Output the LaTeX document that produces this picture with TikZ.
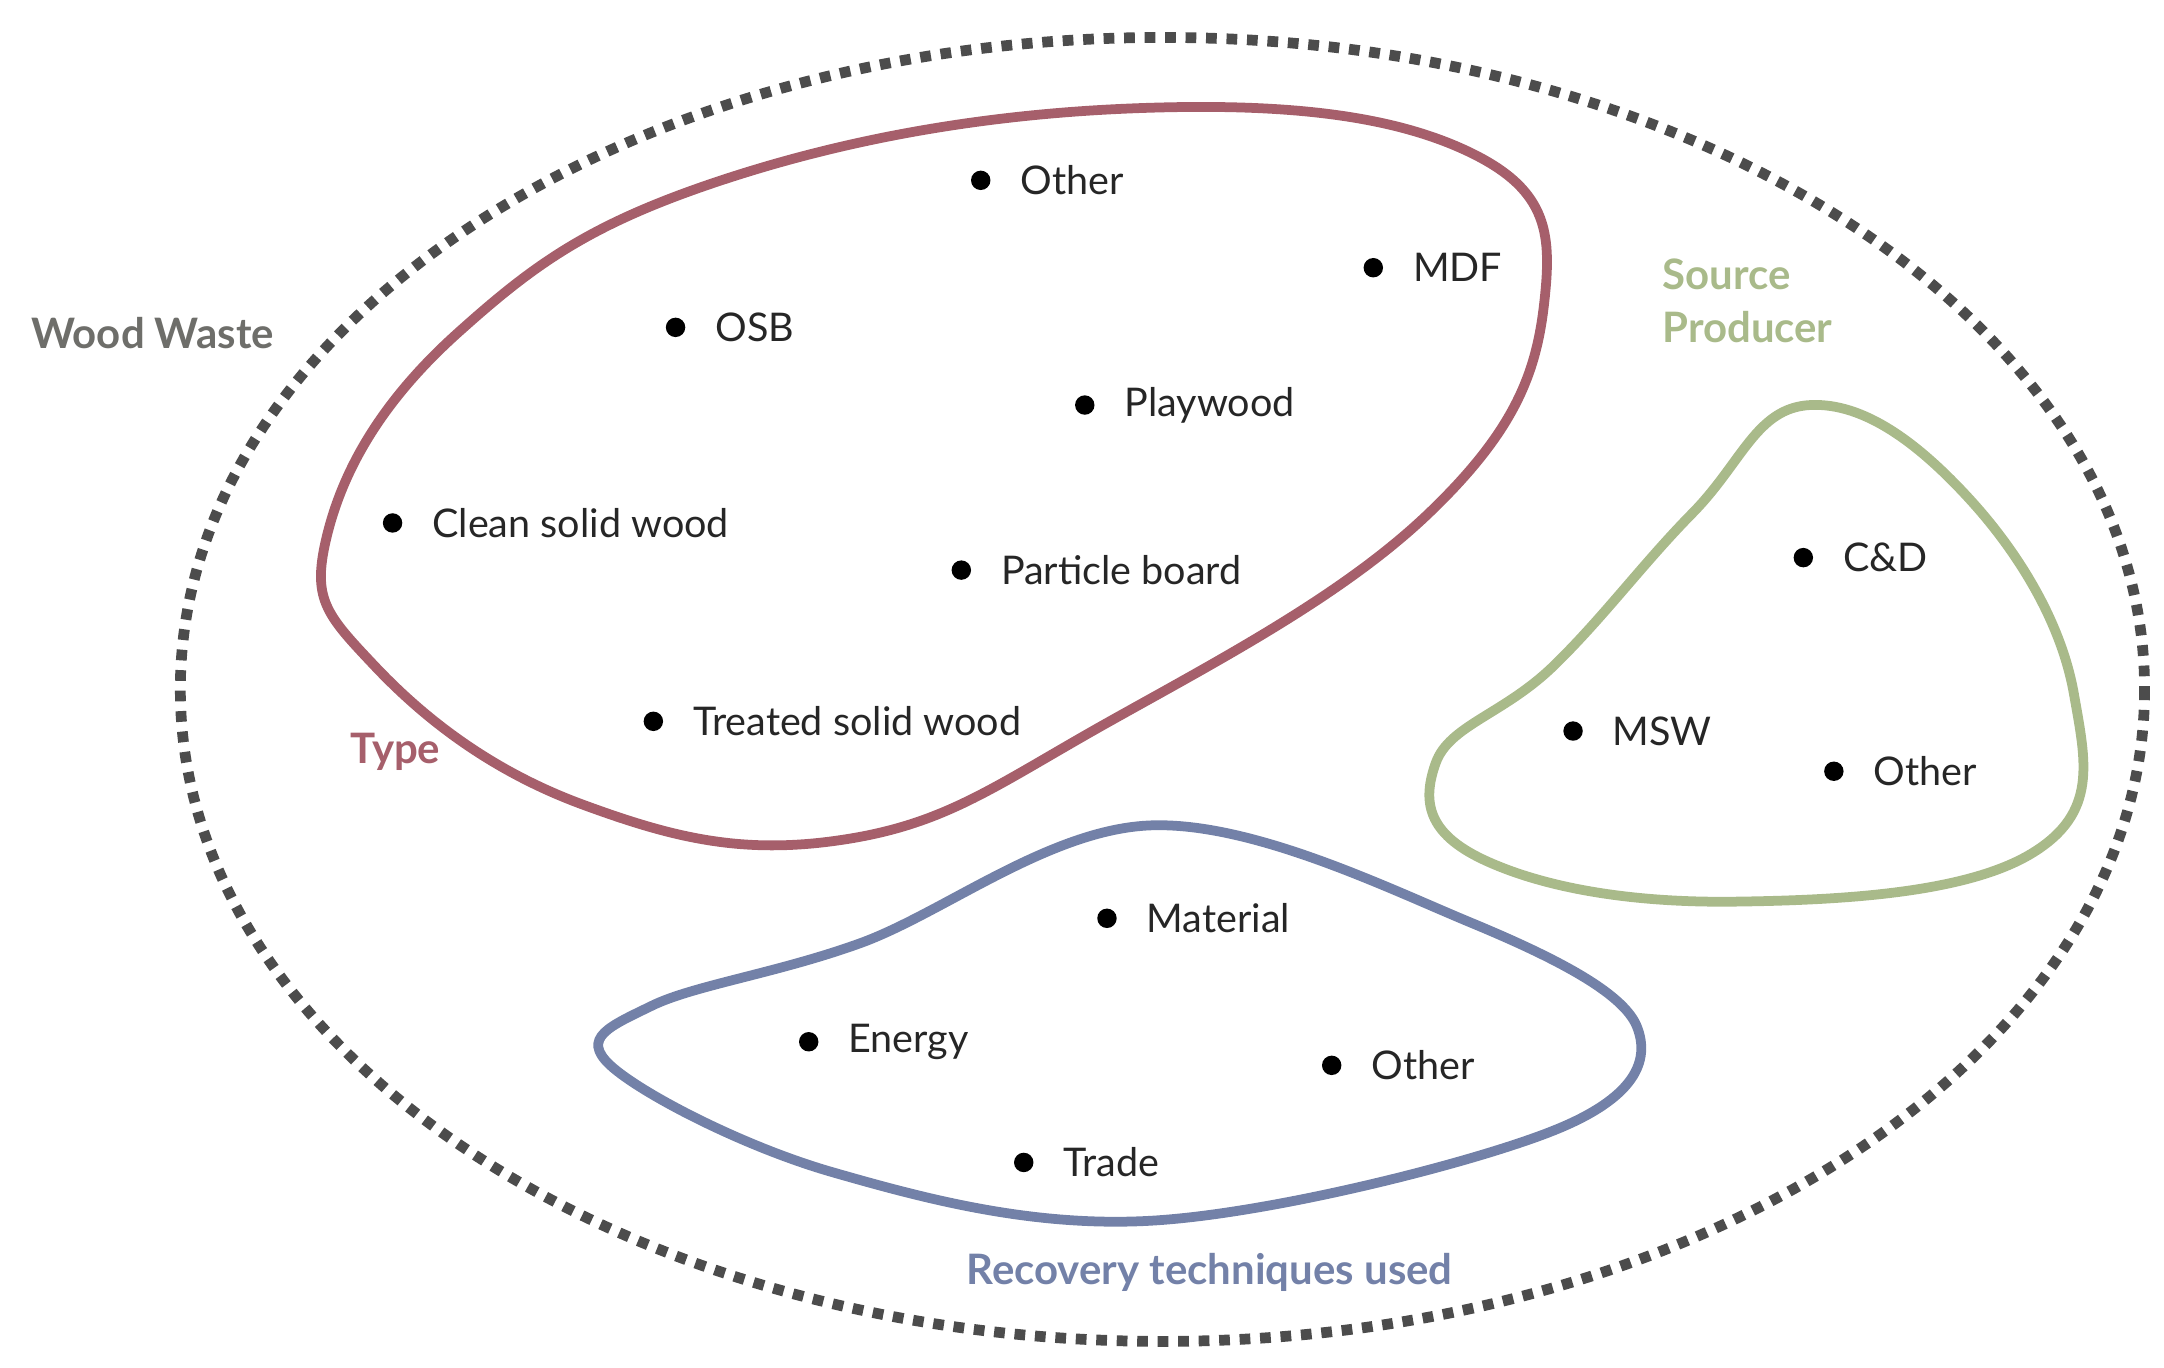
\documentclass[tikz,border=0pt]{standalone}
\usepackage{fontspec}
\setmainfont{Lato}
\begin{document}
\begin{tikzpicture}[x=0.01cm,y=-0.01cm,
  dot/.style={circle,fill=black,inner sep=0pt,minimum size=0.14cm},
  item/.style={anchor=west,font=\fontsize{8.1}{10}\selectfont,text=black!85,inner sep=0pt},
  lab/.style={font=\bfseries\fontsize{8.6}{11}\selectfont},
  blob/.style={line width=2pt}]
\definecolor{cRed}{HTML}{A65F6B}
\definecolor{cGreen}{HTML}{A9BA8A}
\definecolor{cBlue}{HTML}{7381A8}
\definecolor{cGrey}{HTML}{6E6E6A}
\useasboundingbox (0,0) rectangle (1560,986);
\draw[line width=2.2pt,dotted,black!70] (838,497) ellipse [x radius=708,y radius=470];
\draw[blob,cRed] plot[smooth cycle,tension=0.7] coordinates{(236,385) (330,240) (520,130) (820,78) (1060,110) (1113,220) (1030,370) (800,520) (610,605) (420,580) (270,480)};
\draw[blob,cGreen] plot[smooth cycle,tension=0.7] coordinates{(1305,292) (1420,360) (1495,500) (1465,615) (1250,650) (1070,620) (1035,550) (1120,480) (1220,370)};
\draw[blob,cBlue] plot[smooth cycle,tension=0.6] coordinates{(830,595) (1060,665) (1180,740) (1120,815) (830,880) (600,845) (440,768) (470,725) (620,680)};
\foreach \n/\x/\y/\t in {a/707/130/Other,b/990/193/MDF,c/487/236/OSB,d/782/292/Playwood,e/283/377/Clean solid wood,f/693/411/Particle board,g/471/520/Treated solid wood,h/1300/402/C\&D,i/1134/527/MSW,j/1322/556/Other,k/798/662/Material,l/583/751/Energy,m/960/768/Other,n/738/838/Trade}{
  \node[dot] (d\n) at (\x,\y) {};
  \node[item] (t\n) at (\x+28,\y) {\t};
}
\node[lab,text=cGrey] (ww) at (110,240) {Wood Waste};
\node[lab,text=cRed] (ty) at (285,542) {Type};
\node[lab,text=cGreen,align=left,anchor=west] (sp) at (1186,217) {Source\\Producer};
\node[lab,text=cBlue] (rt) at (872,917) {Recovery techniques used};
\end{tikzpicture}
\end{document}
